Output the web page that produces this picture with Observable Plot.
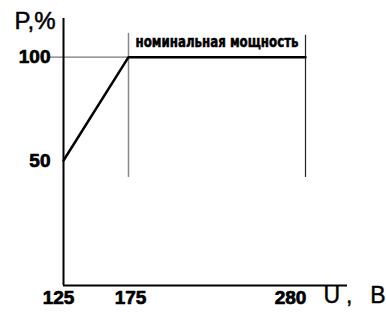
<!DOCTYPE html>
<html>
<head>
<meta charset="utf-8">
<script src="https://cdn.jsdelivr.net/npm/d3@7"></script>
<script src="https://cdn.jsdelivr.net/npm/@observablehq/plot@0.6"></script>
<style>
  html, body { margin: 0; padding: 0; background: #fff; }
  #chart svg { display: block; }
</style>
</head>
<body>
<div id="chart"></div>
<script>
// Data
const voltage = [125, 175, 280];
const power = [50, 100, 100];
const xTicks = [125, 175, 280];
const xTickShift = [-5, 2, -15];
const yTicks = [50, 100];
const xDomain = [125, 175, 280, 312];
const yDomain = [-10.5, 118.7];
const guideX = [175, 280];
const nominalLevel = 100;
const nominalLabel = "номинальная мощность";
const yLabel = "P,%";
const xLabel = "U, B";

const line = voltage.map((v, i) => ({u: v, p: power[i]}));
const font = "'Liberation Sans', Arial, sans-serif";

const tickText = {fontSize: 19, fontWeight: "bold", fill: "#000", stroke: "#000", strokeWidth: 0.7, fontFamily: font};

const chart = Plot.plot({
  width: 386,
  height: 312,
  marginTop: 18,
  marginBottom: 27,
  marginLeft: 63,
  marginRight: 39,
  style: {fontFamily: font, background: "#fff"},
  x: {type: "linear", domain: xDomain, range: [63, 128, 305, 347], axis: null},
  y: {domain: yDomain, axis: null},
  marks: [
    // gridline at nominal level
    Plot.ruleY([nominalLevel], {x1: 114.2, x2: guideX[0], stroke: "#777", strokeWidth: 1.2}),
    // vertical guides
    Plot.ruleX([guideX[0]], {y1: 41.8, y2: 111.5, stroke: "#888", strokeWidth: 1.5}),
    Plot.ruleX([guideX[1]], {y1: 41.8, y2: 110.6, stroke: "#222", strokeWidth: 1.2}),
    // axis lines
    Plot.ruleX([xDomain[0]], {y1: yDomain[0], y2: yDomain[1], stroke: "#000", strokeWidth: 2}),
    Plot.ruleY([yDomain[0]], {x1: xDomain[0], x2: xDomain[3], stroke: "#000", strokeWidth: 2}),
    // data line
    Plot.line(line, {x: "u", y: "p", stroke: "#000", strokeWidth: 2.5}),
    // x tick labels
    ...xTicks.map((t, i) => Plot.text([t], {x: d => d, y: yDomain[0], text: d => String(d), textAnchor: "middle", lineAnchor: "top", dy: 5, dx: xTickShift[i], ...tickText})),
    // y tick labels
    Plot.text(yTicks, {x: xDomain[0], y: d => d, text: d => String(d), textAnchor: "end", lineAnchor: "middle", dx: -13, ...tickText}),
    // nominal label
    Plot.text([nominalLabel], {x: guideX[0], y: nominalLevel, text: d => d, dx: 7, dy: -15, textAnchor: "start", lineAnchor: "middle", fontSize: 15, fontWeight: "bold", fill: "#000", stroke: "#000", strokeWidth: 0.5, fontFamily: "'Liberation Sans Narrow', 'DejaVu Sans Condensed', Arial, sans-serif", className: "nominal"}),
    // axis titles
    Plot.text([yLabel], {x: xDomain[0], y: yDomain[1], text: d => d, textAnchor: "end", lineAnchor: "middle", dx: -8, dy: 3, fontSize: 24, fill: "#000", stroke: "#000", strokeWidth: 0.5, fontFamily: font}),
    Plot.text([xLabel], {x: xDomain[3], y: yDomain[0], text: d => d, textAnchor: "start", lineAnchor: "top", dx: -24, dy: 1, fontSize: 23, fill: "#000", stroke: "#000", strokeWidth: 0.4, fontFamily: font, className: "xlab"})
  ]
});

d3.select(chart).select(".nominal text").attr("textLength", 163).attr("lengthAdjust", "spacingAndGlyphs");
d3.select(chart).select(".xlab text").attr("textLength", 62).attr("lengthAdjust", "spacing");
document.getElementById("chart").append(chart);
</script>
</body>
</html>
